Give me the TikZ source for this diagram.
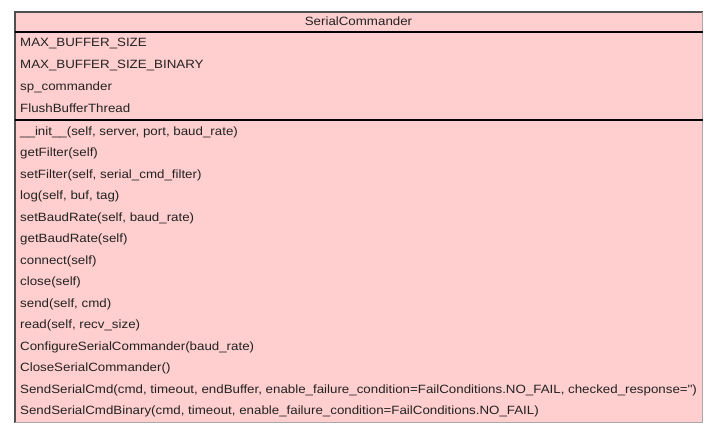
\documentclass[tikz,border=0pt]{standalone}
\usepackage{fontspec}
\setmainfont{Liberation Sans}[FakeStretch=1.11]
\definecolor{umlfill}{HTML}{FFCECE}
\definecolor{umldark}{HTML}{505050}
\definecolor{umllight}{HTML}{A8A8A8}
\definecolor{umltext}{HTML}{222222}
\begin{document}
\begin{tikzpicture}[x=1pt, y=-1pt]
        \tikzstyle{uml_row} = [anchor = west, inner sep = 0pt, text = umltext, font = \fontsize{12}{14}\selectfont, text height=9pt, text depth=2.5pt]
        \tikzstyle{uml_title} = [uml_row, anchor = center]
        \tikzstyle{uml_sep} = [line width = 1.5pt, black]

        \useasboundingbox (0, 0) rectangle (717, 432);

        \coordinate (tl) at (15, 12);
        \coordinate (tr) at (702.5, 12);
        \coordinate (bl) at (15, 422.5);
        \coordinate (br) at (702.5, 422.5);
        \coordinate (s1l) at (15, 32);
        \coordinate (s1r) at (702.5, 32);
        \coordinate (s2l) at (15, 120);
        \coordinate (s2r) at (702.5, 120);

        \fill[umlfill] (tl) rectangle (br);

        \node[uml_title] at (358.5, 22.5) (cls) {SerialCommander};

        \node[uml_row] at (20, 43.5) (a1) {MAX\_BUFFER\_SIZE};
        \node[uml_row] at (20, 65.5) (a2) {MAX\_BUFFER\_SIZE\_BINARY};
        \node[uml_row] at (20, 87.5) (a3) {sp\_commander};
        \node[uml_row] at (20, 109) (a4) {FlushBufferThread};

        \node[uml_row] at (20, 132) (m1) {\_\_init\_\_(self, server, port, baud\_rate)};
        \node[uml_row] at (20, 153.5) (m2) {getFilter(self)};
        \node[uml_row] at (20, 175) (m3) {setFilter(self, serial\_cmd\_filter)};
        \node[uml_row] at (20, 196.5) (m4) {log(self, buf, tag)};
        \node[uml_row] at (20, 218) (m5) {setBaudRate(self, baud\_rate)};
        \node[uml_row] at (20, 239.5) (m6) {getBaudRate(self)};
        \node[uml_row] at (20, 261) (m7) {connect(self)};
        \node[uml_row] at (20, 282.5) (m8) {close(self)};
        \node[uml_row] at (20, 304) (m9) {send(self, cmd)};
        \node[uml_row] at (20, 325.5) (m10) {read(self, recv\_size)};
        \node[uml_row] at (20, 347) (m11) {ConfigureSerialCommander(baud\_rate)};
        \node[uml_row] at (20, 368.5) (m12) {CloseSerialCommander()};
        \node[uml_row] at (20, 390) (m13) {SendSerialCmd(cmd, timeout, endBuffer, enable\_failure\_condition=FailConditions.NO\_FAIL, checked\_response=\textquotesingle\textquotesingle)};
        \node[uml_row] at (20, 411.5) (m14) {SendSerialCmdBinary(cmd, timeout, enable\_failure\_condition=FailConditions.NO\_FAIL)};

        % outline: dark on top and left, light on right and bottom
        \draw[umldark, line width = 1.2pt] (bl) -- (tl) -- (tr);
        \draw[umllight, line width = 0.8pt] (tr) -- (br) -- (bl);

        \draw[uml_sep]
          (s1l) -- (s1r)
          (s2l) -- (s2r)
        ;
      \end{tikzpicture}
\end{document}
